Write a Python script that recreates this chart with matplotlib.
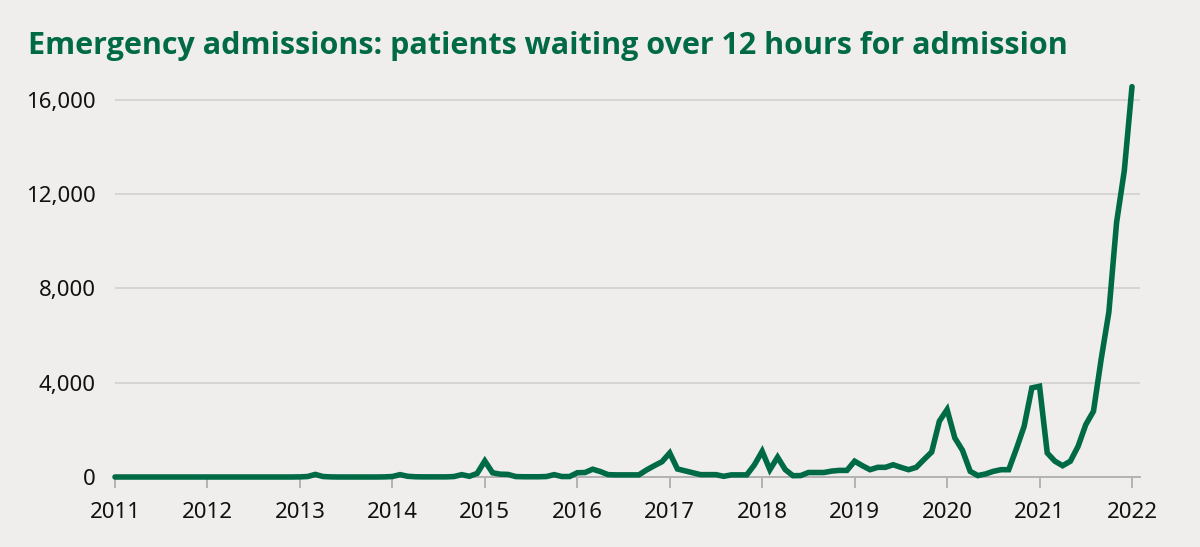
import numpy as np
import matplotlib
matplotlib.use("Agg")
import matplotlib.pyplot as plt
from matplotlib.ticker import FuncFormatter

# monthly 12-hour waits, Jan 2011 .. Jan 2022
y2011 = [0, 0, 0, 0, 0, 0, 0, 0, 0, 0, 0, 0]
y2012 = [0, 0, 0, 0, 0, 0, 0, 0, 0, 0, 0, 0]
y2013 = [5, 20, 110, 20, 5, 0, 0, 0, 0, 0, 0, 5]
y2014 = [20, 100, 30, 10, 5, 5, 5, 5, 20, 100, 30, 150]
y2015 = [680, 180, 120, 110, 20, 10, 10, 10, 20, 100, 20, 20]
y2016 = [180, 190, 330, 230, 100, 90, 90, 90, 90, 300, 480, 650]
y2017 = [1020, 340, 260, 180, 100, 100, 100, 30, 90, 90, 90, 520]
y2018 = [1090, 310, 840, 310, 55, 60, 190, 190, 190, 250, 280, 280]
y2019 = [670, 480, 310, 410, 410, 520, 410, 310, 410, 740, 1060, 2370]
y2020 = [2860, 1660, 1130, 240, 60, 130, 240, 310, 310, 1200, 2150, 3780]
y2021 = [3850, 1020, 670, 480, 670, 1300, 2220, 2790, 5000, 7000, 10800, 12990]
y2022 = [16560]

waits = np.array(y2011 + y2012 + y2013 + y2014 + y2015 + y2016 + y2017 +
                 y2018 + y2019 + y2020 + y2021 + y2022)
dates = 2011 + np.arange(len(waits)) / 12

years = list(range(2011, 2023))
yticks = [0, 4000, 8000, 12000, 16000]

bg = "#efeeec"
green = "#006a46"
plt.rcParams['font.family'] = ['Noto Sans', 'DejaVu Sans']

fig = plt.figure(figsize=(12, 5.47), dpi=100, facecolor=bg)
ax = fig.add_axes([115 / 1200, 1 - 477 / 547, (1140 - 115) / 1200, (477 - 81) / 547])
ax.set_facecolor(bg)

ax.plot(dates, waits, color=green, linewidth=4.0, solid_joinstyle="miter",
        solid_capstyle="round", clip_on=False, zorder=3)

ax.set_xlim(2011, 2022 + 8 / 92.4)
ax.set_ylim(0, 16800)
ax.set_xticks(years)
ax.set_yticks(yticks)
ax.yaxis.set_major_formatter(FuncFormatter(lambda v, p: f"{int(v):,}"))
ax.grid(axis="y", color="#d6d5d3", linewidth=1.4)
ax.set_axisbelow(True)

for s in ["top", "right", "left"]:
    ax.spines[s].set_visible(False)
ax.spines["bottom"].set_color("#b3b3b3")
ax.spines["bottom"].set_linewidth(1.4)
ax.tick_params(axis="x", colors="#b3b3b3", length=8, width=1.4, pad=10,
               labelcolor="#111111", labelsize=16)
ax.tick_params(axis="y", length=0, pad=14, labelcolor="#111111", labelsize=16)

fig.text(28 / 1200, 1 - 46 / 547, "Emergency admissions: patients waiting over 12 hours for admission",
         family=['Open Sans', 'DejaVu Sans'], color=green, fontsize=22,
         fontweight="bold", va="center", ha="left")

fig.savefig("out.png", dpi=100, facecolor=bg)
